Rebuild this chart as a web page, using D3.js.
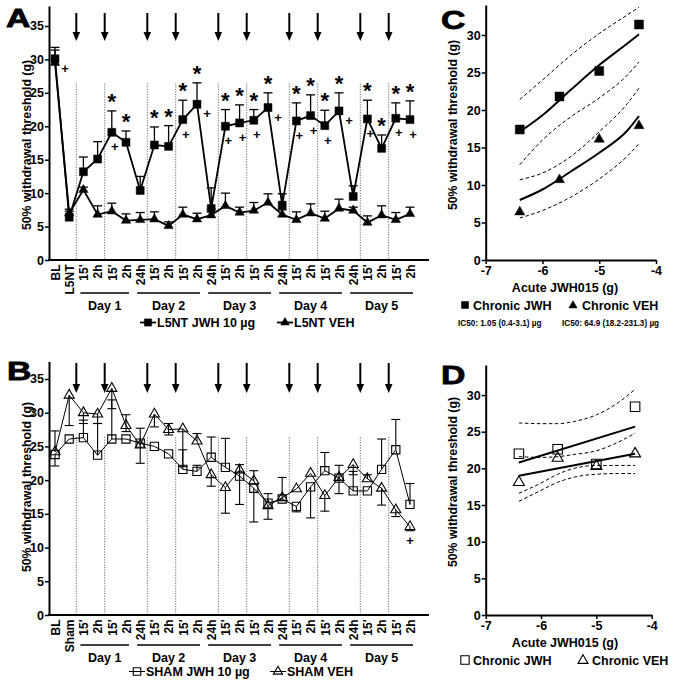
<!DOCTYPE html>
<html><head><meta charset="utf-8">
<script src="https://cdn.jsdelivr.net/npm/d3@7"></script>
<style>
body{margin:0;background:#fff;}
svg{font-family:"Liberation Sans",Arial,sans-serif;font-weight:bold;}
</style>
</head><body>
<svg id="c" width="678" height="686"></svg>
<script>
// ---------------- DATA ----------------
const labelsA = ["BL","L5NT","15'","2h","15'","2h","24h","15'","2h","15'","2h","24h","15'","2h","15'","2h","24h","15'","2h","15'","2h","24h","15'","2h","15'","2h"];
const labelsB = ["BL","Sham","15'","2h","15'","2h","24h","15'","2h","15'","2h","24h","15'","2h","15'","2h","24h","15'","2h","15'","2h","24h","15'","2h","15'","2h"];
const dayLabels = ["Day 1","Day 2","Day 3","Day 4","Day 5"];
const dayFirst = [2,6,11,16,21];
const dayLast  = [5,10,15,20,25];
const injections = [1.5,3.5,6.5,8.5,11.5,13.5,16.5,18.5,21.5,23.5];
const yTicks = [0,5,10,15,20,25,30,35];

// Panel A (L5NT)
const jwhA   = [30.1,6.4,13.2,15.1,19.1,17.6,10.4,17.2,17.0,21.0,23.3,7.7,20.0,20.5,20.9,22.8,8.2,20.8,21.6,20.1,22.3,9.5,21.1,16.7,21.2,21.0];
const jwhAHi = [31.8,7.3,15.4,17.7,22.3,19.3,12.5,19.9,20.1,23.9,26.5,10.8,22.5,23.2,22.5,25.0,9.9,23.5,24.7,22.4,25.0,11.1,23.9,18.7,23.5,23.8];
const vehA   = [29.5,7.0,10.5,6.8,7.3,5.9,6.0,6.1,5.1,6.8,6.1,6.7,8.1,7.1,7.4,8.6,6.8,6.0,7.0,6.2,7.7,7.4,5.6,6.7,6.0,6.9];
const vehAHi = [31.4,7.6,10.9,8.1,8.5,6.9,7.1,7.2,5.7,7.9,7.0,7.6,10.0,7.9,8.6,9.9,7.5,7.2,8.4,7.3,9.1,7.9,6.6,8.1,7.1,7.9];
const starsA = [4,5,7,8,9,10,12,13,14,15,17,18,19,20,22,23,24,25];
const plusBelowA = [4,9,12,13,14,17,18,19,22,24,25];
const plusRightA = [0,10,15,20];

// Panel B (SHAM)
const jwhB   = [23.8,26.1,26.3,23.7,26.1,26.1,25.5,25.0,23.9,21.6,21.3,23.4,21.9,20.6,18.8,16.6,17.2,16.1,19.0,21.4,20.3,18.4,18.4,21.6,24.5,16.4];
const jwhBHi = [null,null,28.9,28.4,31.9,null,null,null,null,24.5,22.2,26.4,26.2,null,null,18.0,20.4,null,null,24.1,null,21.3,null,26.1,29.0,19.5];
const jwhBLo = [22.1,null,null,null,null,null,null,null,null,null,null,null,null,null,13.8,null,null,15.3,14.4,null,null,null,null,null,null,null];
const vehB   = [24.2,32.6,30.0,29.8,33.6,28.1,25.2,29.8,27.5,27.6,25.8,20.8,18.9,21.5,19.9,16.2,17.4,18.7,21.0,17.7,20.4,22.3,20.2,18.8,15.6,13.1];
const vehBHi = [27.3,null,null,null,null,29.7,27.7,null,28.4,null,26.9,null,null,22.3,21.4,null,null,null,null,null,22.2,null,20.8,null,null,null];
const vehBLo = [null,28.1,28.4,28.4,30.6,27.2,22.5,27.9,26.7,22.0,null,19.1,15.1,16.4,null,14.2,null,null,null,15.4,18.0,20.8,null,16.3,14.6,12.5];
const plusBelowBveh = [25];

// Panels C & D (dose response)
const doses = [-6.4,-5.7,-5.0,-4.3];
const xTicksDose = [-7,-6,-5,-4];
const jwhC = [17.4,21.8,25.2,31.4];
const vehC = [6.4,10.7,16.1,17.9];
const fitXC = [-6.4,-6.0,-5.5,-5.0,-4.5,-4.3];
const jwhFitC = [17.1,19.3,22.7,26.0,28.9,30.1];
const jwhUpC  = [21.4,24.0,27.3,30.2,32.7,33.7];
const jwhLoC  = [12.7,16.0,19.1,21.6,24.7,26.4];
const vehFitC = [8.0,9.4,11.8,14.3,17.3,19.2];
const vehUpC  = [10.7,11.6,13.8,17.1,20.9,22.9];
const vehLoC  = [5.6,6.6,8.4,10.8,13.9,15.5];
const ic50Texts = ["IC50: 1.05 (0.4-3.1) µg","IC50: 64.9 (18.2-231.3) µg"];

const jwhD = [22.0,22.6,20.6,28.4];
const vehD = [18.1,21.4,20.3,22.0];
const fitEndsD = [-6.4,-4.3];
const jwhFitD = [20.8,25.7];
const vehFitD = [19.0,22.0];
const fitXD = [-6.4,-6.0,-5.7,-5.4,-5.0,-4.6,-4.3];
const band1D = [26.2,26.1,26.1,26.4,27.3,29.0,30.8];
const band2D = [21.6,21.5,21.6,21.9,22.4,23.6,24.8];
const band3D = [16.6,18.0,19.2,20.0,20.4,20.4,20.4];
const band4D = [15.5,17.0,18.1,18.8,19.2,19.3,19.3];

const yLabel = "50% withdrawal threshold (g)";
const xLabelDose = "Acute JWH015 (g)";

// ---------------- DRAW ----------------
const svg = d3.select("#c");
const sqSym = d3.symbol().type(d3.symbolSquare);
const triSym = d3.symbol().type(d3.symbolTriangle);

function marker(g, type, x, y, open, size){
  const s = type === "square" ? sqSym.size(size)() : triSym.size(size)();
  g.append("path").attr("d", s).attr("transform", `translate(${x},${y})`)
    .attr("fill", open ? "none" : "#000").attr("stroke", "#000")
    .attr("stroke-width", open ? 1.1 : 0.5);
}

function styleAxis(ga, fs){
  ga.select(".domain").attr("stroke","#000").attr("stroke-width",2);
  ga.selectAll(".tick line").attr("stroke","#000").attr("stroke-width",1.5);
  ga.selectAll(".tick text").attr("fill","#000").attr("font-size",fs||12)
    .attr("font-weight","bold").attr("font-family","'Liberation Sans',Arial,sans-serif");
}

function panelLetter(txt, x, y){
  svg.append("text").text(txt).attr("transform",`translate(${x},${y}) scale(1.3,1)`)
    .attr("font-size",26).attr("stroke","#000").attr("stroke-width",0.8).attr("fill","#000");
}

function timePanel(o){
  const g = svg.append("g");
  const n = o.labels.length;
  const x = d3.scalePoint().domain(d3.range(n)).range([55,410]);
  const xi = d3.scaleLinear().domain([0,n-1]).range([55,410]);
  const y = d3.scaleLinear().domain([0,o.yMax]).range([o.y0,o.yTop]);

  g.selectAll(".dl").data(injections).join("line")
    .attr("x1",d=>xi(d)).attr("x2",d=>xi(d)).attr("y1",y(26.4)).attr("y2",y(0))
    .attr("stroke","#777").attr("stroke-width",1).attr("stroke-dasharray","1.3,1.3");
  injections.forEach(d=>{
    const ax = xi(d);
    g.append("line").attr("x1",ax).attr("x2",ax).attr("y1",o.arrowTop).attr("y2",o.arrowBottom-6)
      .attr("stroke","#000").attr("stroke-width",2);
    g.append("path").attr("d",`M${ax-3.8},${o.arrowBottom-9}L${ax+3.8},${o.arrowBottom-9}L${ax},${o.arrowBottom}Z`).attr("fill","#000");
  });

  const ga = g.append("g").attr("transform","translate(49,0)")
    .call(d3.axisLeft(y).tickValues(yTicks).tickSize(4).tickPadding(1).tickSizeOuter(0));
  styleAxis(ga, 12.5);
  const gx = g.append("g").attr("transform",`translate(0,${o.y0})`)
    .call(d3.axisBottom(x).tickFormat(i=>o.labels[i]).tickSize(0));
  gx.select(".domain").remove();
  gx.append("line").attr("x1",48).attr("x2",429).attr("stroke","#000").attr("stroke-width",2);
  styleAxis(gx, 12);
  gx.selectAll(".tick text").attr("transform","rotate(-90)").attr("text-anchor","end")
    .attr("x",-4.5).attr("y",0).attr("dy","0.36em");

  dayLabels.forEach((lab,k)=>{
    g.append("line").attr("x1",x(dayFirst[k])-3).attr("x2",x(dayLast[k])+3)
      .attr("y1",o.dayLineY).attr("y2",o.dayLineY).attr("stroke","#000").attr("stroke-width",1.3);
    g.append("text").text(lab).attr("x",(x(dayFirst[k])+x(dayLast[k]))/2).attr("y",o.dayLineY+17)
      .attr("text-anchor","middle").attr("font-size",12.5);
  });

  g.append("text").text(yLabel).attr("transform",`translate(31,${o.yLabelY}) rotate(-90)`)
    .attr("text-anchor","middle").attr("font-size",12.3);

  o.series.forEach(s=>{
    const idx = d3.range(n);
    [s.hi, s.lo].forEach(arr=>{
      if(!arr) return;
      idx.forEach(i=>{
        if(arr[i]==null) return;
        g.append("line").attr("x1",x(i)).attr("x2",x(i)).attr("y1",y(s.v[i])).attr("y2",y(arr[i]))
          .attr("stroke","#000").attr("stroke-width",o.ebw);
        g.append("line").attr("x1",x(i)-4.5).attr("x2",x(i)+4.5).attr("y1",y(arr[i])).attr("y2",y(arr[i]))
          .attr("stroke","#000").attr("stroke-width",o.ebw);
      });
    });
    g.append("path").datum(idx).attr("d",d3.line().x(i=>x(i)).y(i=>y(s.v[i])))
      .attr("fill","none").attr("stroke","#000").attr("stroke-width",o.lw);
  });
  o.series.forEach(s=>{
    d3.range(n).forEach(i=>marker(g, s.type, x(i), y(s.v[i]), o.open, s.type==="square"?(o.open?68:64):(o.open?44:38)));
  });

  (o.stars||[]).forEach(i=>{
    g.append("text").text("*").attr("x",x(i)).attr("y",y(o.starRef[i])-2)
      .attr("text-anchor","middle").attr("font-size",22);
  });
  (o.plusBelow||[]).forEach(i=>{
    g.append("text").text("+").attr("x",x(i)+3).attr("y",y(o.plusRef[i])+19)
      .attr("text-anchor","middle").attr("font-size",13);
  });
  (o.plusRight||[]).forEach(i=>{
    g.append("text").text("+").attr("x",x(i)+10).attr("y",y(o.plusRef[i])+14)
      .attr("text-anchor","middle").attr("font-size",13);
  });

  o.legend.forEach(l=>{
    g.append("line").attr("x1",l.x).attr("x2",l.x+16).attr("y1",o.legendY).attr("y2",o.legendY)
      .attr("stroke","#000").attr("stroke-width",o.lw);
    marker(g, l.type, l.x+8, o.legendY, o.open, l.type==="square"?(o.open?56:52):(o.open?36:32));
    g.append("text").text(l.label).attr("x",l.x+17).attr("y",o.legendY+4.5).attr("font-size",12.5);
  });
}

timePanel({
  labels: labelsA, y0: 260, yTop: 260-38*6.686, yMax: 38,
  arrowTop: 13, arrowBottom: 41, dayLineY: 293, yLabelY: 145, legendY: 322.5,
  lw: 1.8, ebw: 1.3, open: false,
  series: [{v: jwhA, hi: jwhAHi, type:"square"}, {v: vehA, hi: vehAHi, type:"triangle"}],
  stars: starsA, starRef: jwhAHi, plusBelow: plusBelowA, plusRight: plusRightA, plusRef: jwhA,
  legend: [{x:140,type:"square",label:"L5NT JWH 10 µg"},{x:277,type:"triangle",label:"L5NT VEH"}]
});
timePanel({
  labels: labelsB, y0: 615, yTop: 615-37.6*6.743, yMax: 37.6,
  arrowTop: 363, arrowBottom: 393, dayLineY: 645, yLabelY: 487, legendY: 671.5,
  lw: 1, ebw: 1.1, open: true,
  series: [{v: jwhB, hi: jwhBHi, lo: jwhBLo, type:"square"}, {v: vehB, hi: vehBHi, lo: vehBLo, type:"triangle"}],
  stars: [], plusBelow: [], plusRight: [],
  legend: [{x:129,type:"square",label:"SHAM JWH 10 µg"},{x:270,type:"triangle",label:"SHAM VEH"}]
});
{
  const x = d3.scalePoint().domain(d3.range(labelsB.length)).range([55,410]);
  const y = d3.scaleLinear().domain([0,37.6]).range([615,615-37.6*6.743]);
  plusBelowBveh.forEach(i=>{
    svg.append("text").text("+").attr("x",x(i)).attr("y",y(vehBLo[i])+14)
      .attr("text-anchor","middle").attr("font-size",13);
  });
}

function dosePanel(o){
  const g = svg.append("g");
  const x = d3.scaleLinear().domain([-7,-4]).range([485.7,o.xRight]);
  const y = d3.scaleLinear().domain([0,o.yMax]).range([o.y0,o.yTop]);
  const ga = g.append("g").attr("transform","translate(485.7,0)")
    .call(d3.axisLeft(y).tickValues([0,5,10,15,20,25,30]).tickSize(4).tickPadding(1).tickSizeOuter(0));
  styleAxis(ga, 12.5);
  const gx = g.append("g").attr("transform",`translate(0,${o.y0})`)
    .call(d3.axisBottom(x).tickValues(xTicksDose).tickFormat(d=>String(d)).tickSize(4).tickPadding(2).tickSizeOuter(0));
  styleAxis(gx, 12.5);
  g.append("text").text(xLabelDose).attr("x",565).attr("y",o.y0+31.5).attr("text-anchor","middle").attr("font-size",12.5);
  g.append("text").text(yLabel).attr("transform",`translate(457,${o.yLabelY}) rotate(-90)`)
    .attr("text-anchor","middle").attr("font-size",12.3);

  const ln = d3.line().curve(d3.curveMonotoneX);
  o.bands.forEach(b=>{
    g.append("path").attr("d", ln(b.x.map((v,i)=>[x(v),y(b.y[i])])))
      .attr("fill","none").attr("stroke","#000").attr("stroke-width",1).attr("stroke-dasharray","3.5,2.5");
  });
  o.fits.forEach(b=>{
    g.append("path").attr("d", ln(b.x.map((v,i)=>[x(v),y(b.y[i])])))
      .attr("fill","none").attr("stroke","#000").attr("stroke-width",2);
  });
  doses.forEach((d,i)=>{
    marker(g,"square",x(d),y(o.jwh[i]),o.open,o.open?90:80);
    marker(g,"triangle",x(d),y(o.veh[i]),o.open,o.open?52:44);
  });
  marker(g,"square",465,o.legendY,o.open,o.open?70:50);
  g.append("text").text("Chronic JWH").attr("x",473).attr("y",o.legendY+4.5).attr("font-size",12.5);
  marker(g,"triangle",o.legTriX,o.legendY+0.5,o.open,o.open?44:30);
  g.append("text").text("Chronic VEH").attr("x",o.legTriX+9).attr("y",o.legendY+4.5).attr("font-size",12.5);
  if(o.ic50){
    g.append("text").text(o.ic50[0]).attr("x",458).attr("y",o.legendY+21).attr("font-size",8.2);
    g.append("text").text(o.ic50[1]).attr("x",562).attr("y",o.legendY+21).attr("font-size",8.2);
  }
}

dosePanel({
  y0: 260, yTop: 5, yMax: 34, xRight: 656, yLabelY: 125, legendY: 305, legTriX: 573, open: false,
  jwh: jwhC, veh: vehC, ic50: ic50Texts,
  fits: [{x: fitXC, y: jwhFitC},{x: fitXC, y: vehFitC}],
  bands: [{x: fitXC, y: jwhUpC},{x: fitXC, y: jwhLoC},{x: fitXC, y: vehUpC},{x: fitXC, y: vehLoC}]
});
dosePanel({
  y0: 615, yTop: 365, yMax: 34.1, xRight: 651.7, yLabelY: 482, legendY: 660, legTriX: 583, open: true,
  jwh: jwhD, veh: vehD, ic50: null,
  fits: [{x: fitEndsD, y: jwhFitD},{x: fitEndsD, y: vehFitD}],
  bands: [{x: fitXD, y: band1D},{x: fitXD, y: band2D},{x: fitXD, y: band3D},{x: fitXD, y: band4D}]
});

panelLetter("A", 6, 27);
panelLetter("B", 7, 380);
panelLetter("C", 441, 29);
panelLetter("D", 441, 384);
</script>
</body></html>
